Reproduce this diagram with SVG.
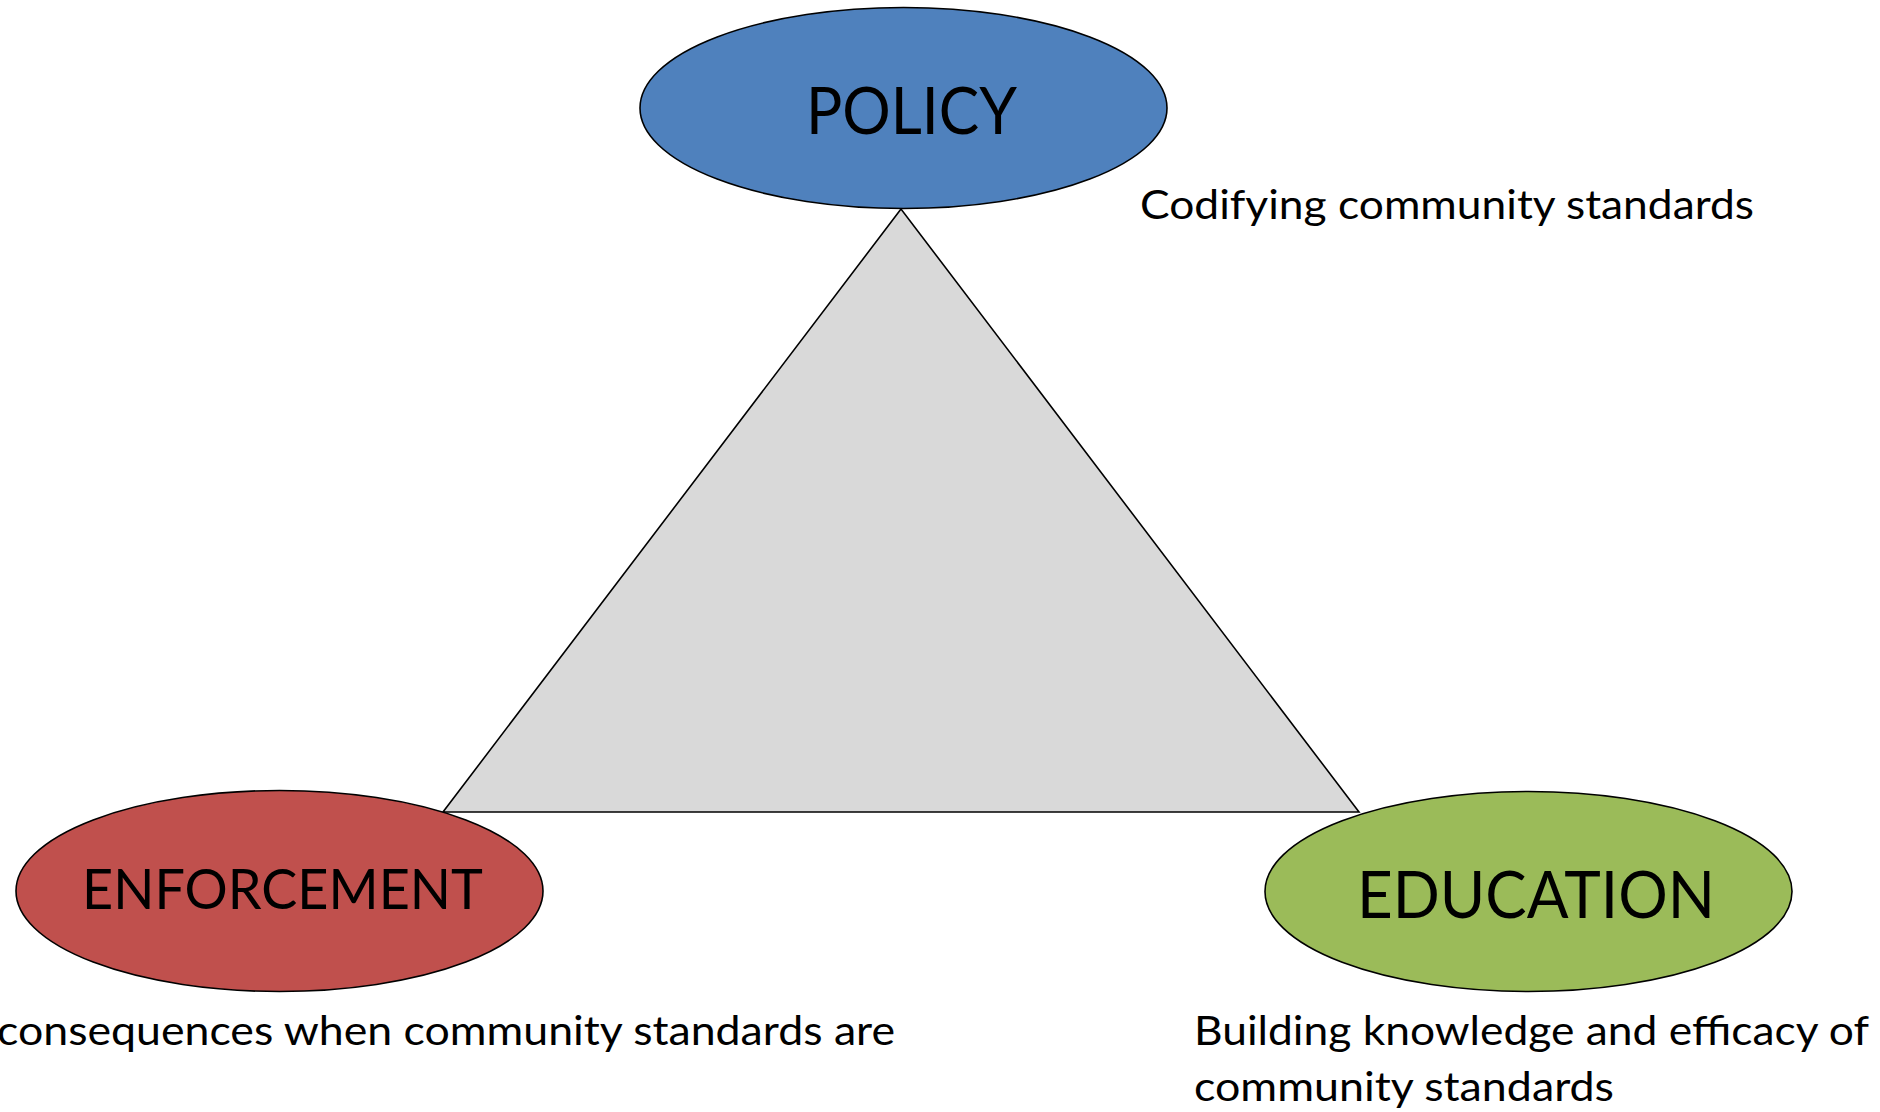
<svg xmlns="http://www.w3.org/2000/svg" width="1880" height="1112" viewBox="0 0 1880 1112">
<style>
.shape{stroke:#000;stroke-width:1.6}
.lbl{font-family:Lato,"Open Sans","Liberation Sans",sans-serif;fill:#000}
.big{text-anchor:start}
.desc{font-size:41.5px}
</style>
<rect width="1880" height="1112" fill="#fff"/>
<g id="connectors">
<polygon class="shape" points="901,209 443,812 1359,812" fill="#D9D9D9"/>
</g>
<g id="policy">
<ellipse class="shape" cx="903.5" cy="108" rx="263.5" ry="100.5" fill="#4F81BD"/>
<text class="lbl big" x="806" y="134" font-size="65.5" textLength="211" lengthAdjust="spacingAndGlyphs">POLICY</text>
</g>
<g id="enforcement">
<ellipse class="shape" cx="279.5" cy="891" rx="263.5" ry="100.5" fill="#C0504D"/>
<text class="lbl big" x="82" y="909" font-size="56" textLength="401" lengthAdjust="spacingAndGlyphs">ENFORCEMENT</text>
</g>
<g id="education">
<ellipse class="shape" cx="1528.5" cy="891.5" rx="263.5" ry="100" fill="#9BBB59"/>
<text class="lbl big" x="1357" y="918" font-size="65" textLength="358" lengthAdjust="spacingAndGlyphs">EDUCATION</text>
</g>
<g id="policy-desc">
<text class="lbl desc" x="1140" y="219" textLength="614" lengthAdjust="spacingAndGlyphs">Codifying community standards</text>
</g>
<g id="enforcement-desc">
<text class="lbl desc" x="-3" y="1045" textLength="898" lengthAdjust="spacingAndGlyphs">consequences when community standards are</text>
</g>
<g id="education-desc">
<text class="lbl desc" x="1194" y="1045" textLength="675" lengthAdjust="spacingAndGlyphs">Building knowledge and efficacy of</text>
<text class="lbl desc" x="1194" y="1101" textLength="420" lengthAdjust="spacingAndGlyphs">community standards</text>
</g>
</svg>
